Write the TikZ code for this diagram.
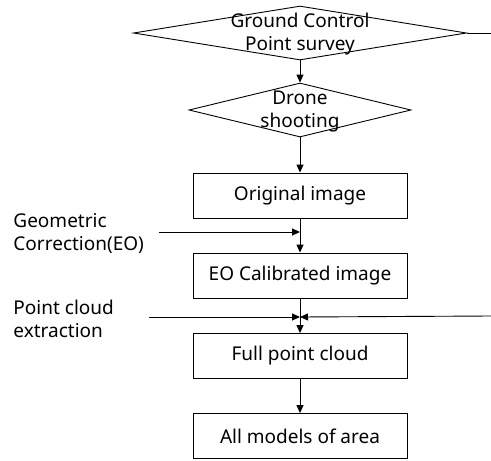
\documentclass[tikz,border=0pt]{standalone}
\usepackage{fontspec}
\setmainfont{Noto Sans}
\usetikzlibrary{shapes.geometric, arrows.meta}

\begin{document}
\begin{tikzpicture}[
          x=1pt, y=-1pt,
          every path/.style={line width=0.9pt},
          dec/.style={diamond, draw, inner sep=0pt,
                      minimum height=54pt},
          box/.style={rectangle, draw, minimum width=214pt,
                      minimum height=45pt, text centered,
                      font=\fontsize{19}{23}\selectfont},
          txt/.style={align=center, inner sep=0pt,
                      font=\fontsize{19}{23}\selectfont},
          side/.style={align=left, anchor=west, inner sep=0pt,
                       font=\fontsize{19}{23}\selectfont},
          flow/.style={-{Triangle[length=8pt, width=7pt]}}
        ]
          \useasboundingbox (0,0) rectangle (491,461);
          \node[dec, minimum width=333pt] (gcp)   at (300,33)    {};
          \node[txt] (gcptxt) at (300,34)  {Ground Control\\Point survey};
          \node[dec, minimum width=222pt] (drone) at (300,110)   {};
          \node[txt] (dronetxt) at (300,111) {Drone\\shooting};
          \node[box] (orig)   at (300,195.5) {Original image};
          \node[box] (eo)     at (300,275.5) {EO Calibrated image};
          \node[box] (full)   at (300,356)   {Full point cloud};
          \node[box] (models) at (300,436)   {All models of area};
          \node[side] (geo)   at (13,233)    {Geometric\\Correction(EO)};
          \node[side] (pc)    at (13,319)    {Point cloud\\extraction};
          \coordinate (gcpR) at (491,33);
          \coordinate (geoL) at (159,232);
          \coordinate (geoJ) at (300,232);
          \coordinate (pcL)  at (149,317);
          \coordinate (pcR)  at (491,316);
          \coordinate (pcJ)  at (300,317);
          \draw (gcp.east)--(gcpR);
          \draw[flow] (gcp.south)--(drone.north);
          \draw[flow] (drone.south)--(orig.north);
          \draw[flow] (orig.south)--(eo.north);
          \draw[flow] (geoL)--(geoJ);
          \draw[flow] (eo.south)--(full.north);
          \draw[flow] (pcL)--(pcJ);
          \draw[flow] (pcR)--(pcJ);
          \draw[flow] (full.south)--(models.north);
        \end{tikzpicture}
\end{document}
